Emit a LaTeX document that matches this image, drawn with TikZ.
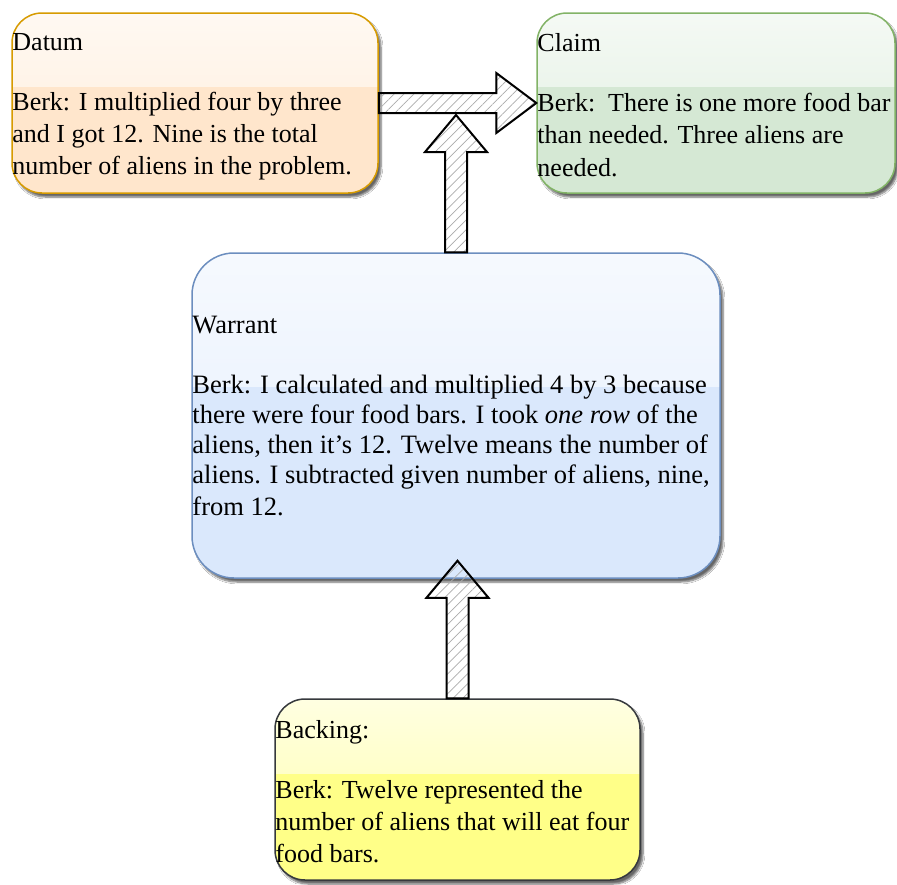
\documentclass[tikz,border=0pt]{standalone}
\usepackage{fontspec}
\setmainfont{Liberation Serif}
\usetikzlibrary{calc,shadows.blur,patterns.meta}

\definecolor{datumfill}{HTML}{FFE6CC}
\definecolor{datumline}{HTML}{D79B00}
\definecolor{claimfill}{HTML}{D5E8D4}
\definecolor{claimline}{HTML}{82B366}
\definecolor{warrantfill}{HTML}{DAE8FC}
\definecolor{warrantline}{HTML}{6C8EBF}
\definecolor{backingfill}{HTML}{FFFF88}
\definecolor{backingline}{HTML}{36393D}

% horizontal block arrow from #1 to #2
\newcommand{\blockarrowH}[2]{let \p1=(#1), \p2=(#2) in
  (\x1,{\y1+10pt}) -- ({\x2-40pt},{\y1+10pt}) -- ({\x2-40pt},{\y1+30pt}) --
  (\x2,\y1) -- ({\x2-40pt},{\y1-30pt}) -- ({\x2-40pt},{\y1-10pt}) --
  (\x1,{\y1-10pt}) -- cycle}
% vertical block arrow pointing up from #1 to #2
\newcommand{\blockarrowV}[2]{let \p1=(#1), \p2=(#2) in
  ({\x1-11pt},\y1) -- ({\x1-11pt},{\y2-37pt}) -- ({\x1-31pt},{\y2-37pt}) --
  (\x1,\y2) -- ({\x1+31pt},{\y2-37pt}) -- ({\x1+11pt},{\y2-37pt}) --
  ({\x1+11pt},\y1) -- cycle}

\tikzset{
  box/.style={draw, line width=1.5pt, rounded corners=#1, inner sep=0pt,
    blur shadow={shadow xshift=3pt, shadow yshift=-4pt, shadow blur steps=6,
      shadow opacity=60}},
  gloss/.style={path picture={
    \shade[sharp corners, top color=#1!25!white, bottom color=#1!75!white]
      (path picture bounding box.north west) rectangle
      ($(path picture bounding box.north east)!0.41!(path picture bounding box.south east)$);}},
  txt/.style={anchor=west, align=left, inner sep=0pt,
    font=\fontsize{26}{32}\selectfont},
  hatch/.style={pattern={Lines[angle=45,distance=7pt,line width=0.7pt]},
    pattern color=gray!65},
  arrowline/.style={draw=black, line width=2pt, line join=miter},
  arrowrough/.style={draw=black, line width=0.6pt, line join=miter},
}

\begin{document}
\begin{tikzpicture}[x=1pt,y=-1pt]
\useasboundingbox[fill=white] (0,0) rectangle (897,884);

% boxes
\node[box=30pt, fill=datumfill, draw=datumline, gloss=datumfill,
      minimum width=366pt, minimum height=180pt] (datum) at (195,103) {};
\node[box=30pt, fill=claimfill, draw=claimline, gloss=claimfill,
      minimum width=358pt, minimum height=180pt] (claim) at (716,103) {};
\node[box=42pt, fill=warrantfill, draw=warrantline, gloss=warrantfill,
      minimum width=528pt, minimum height=325pt] (warrant) at (456,415.5) {};
\node[box=30pt, fill=backingfill, draw=backingline, gloss=backingfill,
      minimum width=365pt, minimum height=181pt] (backing) at (457.5,789.5) {};

% texts
\node[txt] (datumtxt) at ([xshift=1pt,yshift=-4pt]datum.west)
  {Datum\\[28pt]Berk: I multiplied four by three\\and I got 12. Nine is the total\\number of aliens in the problem.};
\node[txt] (claimtxt) at ([xshift=1pt,yshift=-2pt]claim.west)
  {Claim\\[28pt]Berk:\ \ There is one more food bar\\than needed. Three aliens are\\[1pt]needed.};
\node[txt, font=\fontsize{26.5}{30}\selectfont] (warranttxt) at ([xshift=1pt,yshift=-1pt]warrant.west)
  {Warrant\\[30pt]Berk: I calculated and multiplied 4 by 3 because\\there were four food bars. I took \textit{one row} of the\\aliens, then it’s 12. Twelve means the number of\\aliens. I subtracted given number of aliens, nine,\\[2pt]from 12.};
\node[txt] (backingtxt) at ([xshift=1pt,yshift=-2pt]backing.west)
  {Backing:\\[28pt]Berk: Twelve represented the\\number of aliens that will eat four\\food bars.};

% arrow end points
\coordinate (jointip) at ($(warrant.north |- datum.east)+(0,12)$);
\coordinate (wtip) at ($(backing.north |- warrant.south)+(0,-18)$);

% datum -> claim
\fill[hatch, xshift=3pt, yshift=-3pt] \blockarrowH{datum.east}{claim.west};
\path[arrowline] \blockarrowH{datum.east}{claim.west};
\path[arrowrough, xshift=0.8pt, yshift=0.8pt] \blockarrowH{datum.east}{claim.west};

% warrant -> datum/claim link
\fill[hatch, xshift=3pt, yshift=-3pt] \blockarrowV{warrant.north}{jointip};
\path[arrowline] \blockarrowV{warrant.north}{jointip};
\path[arrowrough, xshift=-0.8pt, yshift=0.6pt] \blockarrowV{warrant.north}{jointip};

% backing -> warrant
\fill[hatch, xshift=3pt, yshift=-3pt] \blockarrowV{backing.north}{wtip};
\path[arrowline] \blockarrowV{backing.north}{wtip};
\path[arrowrough, xshift=-0.8pt, yshift=0.6pt] \blockarrowV{backing.north}{wtip};
\end{tikzpicture}
\end{document}
